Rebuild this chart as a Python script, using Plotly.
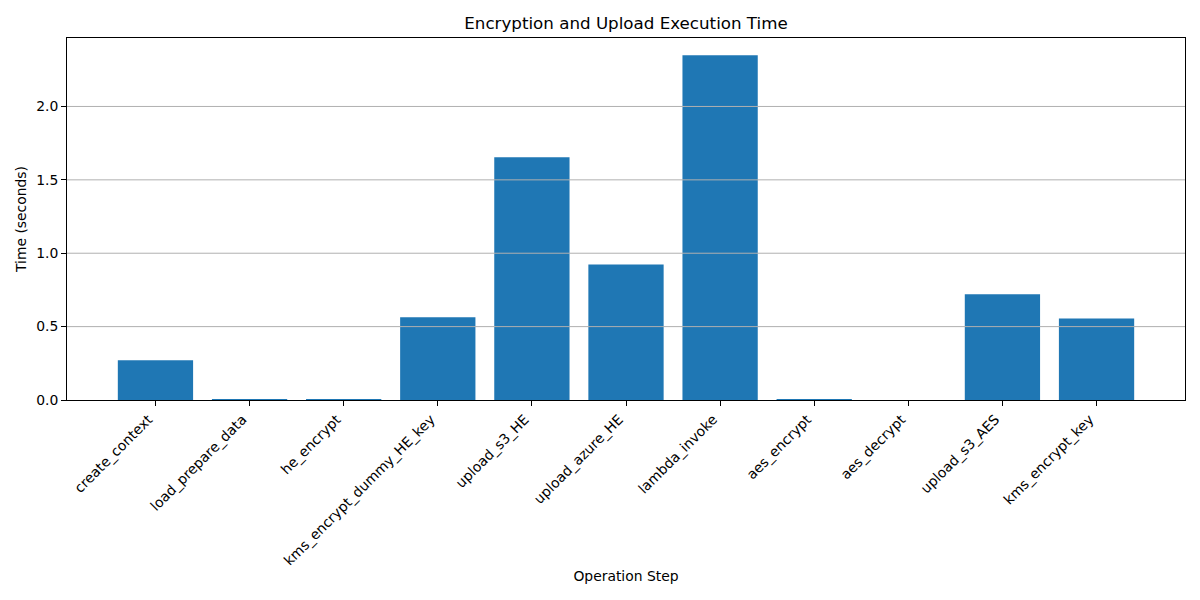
import plotly.graph_objects as go

steps = ["create_context", "load_prepare_data", "he_encrypt", "kms_encrypt_dummy_HE_key",
         "upload_s3_HE", "upload_azure_HE", "lambda_invoke", "aes_encrypt", "aes_decrypt",
         "upload_s3_AES", "kms_encrypt_key"]
times = [0.270, 0.005, 0.005, 0.563, 1.654, 0.924, 2.349, 0.004, 0.0, 0.720, 0.556]
y_ticks = [0.0, 0.5, 1.0, 1.5, 2.0]

FONT = "DejaVu Sans"
fs = 13.9

fig = go.Figure(go.Bar(x=list(range(len(steps))), y=times, marker=dict(color="#1f77b4", line=dict(width=0)),
                       width=0.8))

ymax = max(times) * 1.05
shapes = [dict(type="line", xref="paper", yref="y", x0=0, x1=1, y0=v, y1=v,
               line=dict(color="#b0b0b0", width=1), layer="above") for v in y_ticks[1:]]

fig.update_layout(
    width=1200, height=600,
    margin=dict(l=67, r=15, t=38, b=200, pad=0),
    plot_bgcolor="white", paper_bgcolor="white",
    font=dict(family=FONT, size=fs, color="black"),
    showlegend=False,
    shapes=shapes,
    title=dict(text="Encryption and Upload Execution Time", x=0.5, xref="paper",
               y=1 - 23 / 600, yref="container", xanchor="center", yanchor="middle",
               font=dict(size=16.7, family=FONT, color="black")),
    xaxis=dict(range=[-0.94, 10.94], tickmode="array", tickvals=list(range(len(steps))),
               ticktext=steps, tickangle=-45, showline=True, linecolor="black", linewidth=1,
               mirror=True, ticks="outside", ticklen=4.9, tickcolor="black", showgrid=False,
               zeroline=False, tickfont=dict(size=fs), ticklabelshift=-7,
               title=dict(text="Operation Step", font=dict(size=fs), standoff=3)),
    yaxis=dict(range=[0, ymax], tickmode="array", tickvals=y_ticks, tickformat=".1f",
               showline=True, linecolor="black", linewidth=1, mirror=True, ticks="outside",
               ticklen=4.9, tickcolor="black", showgrid=False, zeroline=False,
               tickfont=dict(size=fs),
               title=dict(text="Time (seconds)", font=dict(size=fs), standoff=6)),
)

fig.write_html("out.html")
